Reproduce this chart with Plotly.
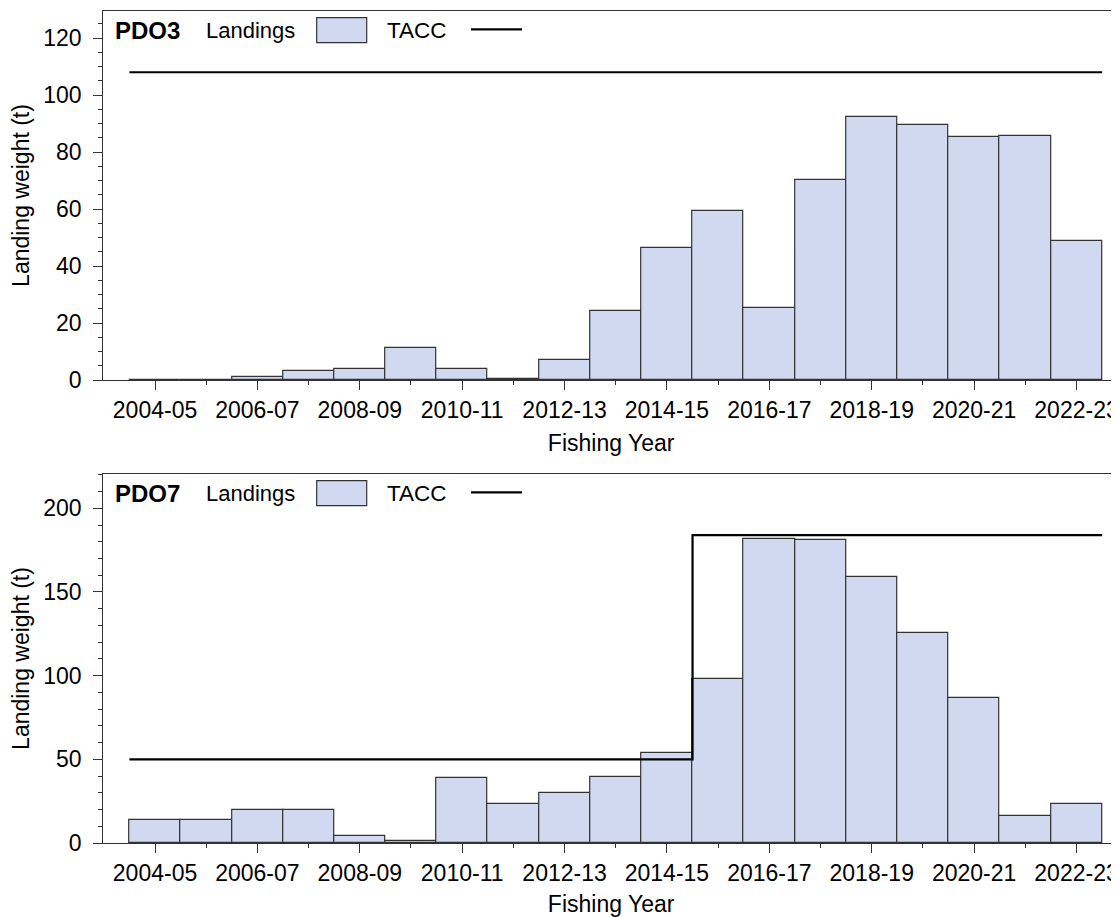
import plotly.graph_objects as go

# ---------------- data ----------------
years = ["2004-05", "2005-06", "2006-07", "2007-08", "2008-09", "2009-10", "2010-11",
         "2011-12", "2012-13", "2013-14", "2014-15", "2015-16", "2016-17", "2017-18",
         "2018-19", "2019-20", "2020-21", "2021-22", "2022-23"]

pdo3_landings = [0, 0, 1.2, 3.2, 3.9, 11.3, 3.9, 0.5, 7.0, 24.2, 46.2, 59.4, 25.4,
                 70.3, 92.3, 89.5, 85.3, 85.6, 48.9]
pdo3_tacc = [108] * 19

pdo7_landings = [14.0, 14.0, 20.0, 20.0, 4.2, 1.4, 38.7, 23.5, 30.1, 39.3, 54.0, 97.9,
                 181.9, 180.9, 159.1, 125.2, 86.5, 16.0, 23.3]
pdo7_tacc = [50] * 11 + [184] * 8

panel_names = ["PDO3", "PDO7"]
y_ranges = [[0, 129.5], [0, 220.5]]
y_dticks = [20, 50]
y_minor = [5, 10]

# ---------------- style ----------------
# page body has an 8px default margin; figure is sized/offset so that the
# visible picture lines up with a 1119x917 window
OFF = 8
W, H = 1119 - OFF, 917 - OFF
FONT = "Liberation Sans, Arial, sans-serif"
BAR_FILL = "#D1D9F1"
BAR_LINE = "#333333"
AXIS_COL = "#333333"


def fx(px):
    return (px - OFF) / W


def fy(py):
    return 1 - (py - OFF) / H


idx = list(range(len(years)))
major_vals = idx[::2]
major_text = years[::2]
minor_vals = idx[1::2]

fig = go.Figure()

panels = [
    (pdo3_landings, pdo3_tacc, "x", "y"),
    (pdo7_landings, pdo7_tacc, "x2", "y2"),
]

for land, tacc, xa, ya in panels:
    fig.add_trace(go.Bar(
        x=idx, y=land, width=1.0, xaxis=xa, yaxis=ya,
        marker=dict(color=BAR_FILL, line=dict(color=BAR_LINE, width=1.2)),
        showlegend=False, name="Landings",
    ))
    step_x = [i - 0.5 for i in idx] + [idx[-1] + 0.5]
    step_y = list(tacc) + [tacc[-1]]
    fig.add_trace(go.Scatter(
        x=step_x, y=step_y, mode="lines", line_shape="hv", xaxis=xa, yaxis=ya,
        line=dict(color="#000000", width=2.2), showlegend=False, name="TACC",
    ))

# panel pixel geometry (top, bottom of plot area) in window pixels
panel_px = [(11, 380), (474, 843)]
x_left_px = 103.3

axis_common = dict(
    showline=True, linecolor=AXIS_COL, linewidth=1.2,
    ticks="outside", ticklen=9, tickwidth=1.2, tickcolor=AXIS_COL,
    showgrid=False, zeroline=False,
    tickfont=dict(family=FONT, size=23, color="#000"),
    automargin=False,
)

layout = dict(
    width=W, height=H,
    margin=dict(l=0, r=0, t=0, b=0),
    plot_bgcolor="white", paper_bgcolor="white",
    bargap=0, showlegend=False,
    font=dict(family=FONT, size=23, color="#000"),
)

for k, (top, bot) in enumerate(panel_px):
    sfx = "" if k == 0 else str(k + 1)
    layout["xaxis" + sfx] = dict(
        axis_common,
        domain=[fx(x_left_px), 1.0],
        anchor="y" + sfx,
        range=[-1.01, 18.83],
        tickmode="array", tickvals=major_vals, ticktext=major_text,
        minor=dict(tickmode="array", tickvals=minor_vals, ticklen=4,
                   tickcolor=AXIS_COL, tickwidth=1.2, ticks="outside"),
        mirror=True,
        title=dict(text="Fishing Year", standoff=13,
                   font=dict(family=FONT, size=23, color="#000")),
    )
    layout["yaxis" + sfx] = dict(
        axis_common,
        domain=[fy(bot), fy(top)],
        anchor="x" + sfx,
        range=y_ranges[k],
        tickmode="linear", tick0=0, dtick=y_dticks[k],
        ticklabelstandoff=7,
        minor=dict(dtick=y_minor[k], tick0=0, ticklen=4,
                   tickcolor=AXIS_COL, tickwidth=1.2, ticks="outside"),
        mirror=False,
        title=dict(text="Landing weight (t)", standoff=12,
                   font=dict(family=FONT, size=23, color="#000")),
    )

fig.update_layout(**layout)

# ---------------- in-plot legends ----------------
shapes = []
annotations = []
for k, (top, bot) in enumerate(panel_px):
    off = top - 11
    cy = 30.5 + off
    annotations.append(dict(
        x=fx(113), y=fy(cy), xref="paper", yref="paper", xanchor="left", yanchor="middle",
        text="<b>%s</b>" % panel_names[k], showarrow=False,
        font=dict(family=FONT, size=24, color="#000"),
    ))
    annotations.append(dict(
        x=fx(204), y=fy(cy), xref="paper", yref="paper", xanchor="left", yanchor="middle",
        text="Landings", showarrow=False,
        font=dict(family=FONT, size=22, color="#000"),
    ))
    annotations.append(dict(
        x=fx(385), y=fy(cy), xref="paper", yref="paper", xanchor="left", yanchor="middle",
        text="TACC", showarrow=False,
        font=dict(family=FONT, size=22.5, color="#000"),
    ))
    shapes.append(dict(
        type="rect", xref="paper", yref="paper",
        x0=fx(316.7), x1=fx(366.7), y0=fy(17.7 + off), y1=fy(42.7 + off),
        fillcolor=BAR_FILL, line=dict(color=BAR_LINE, width=1.2),
    ))
    shapes.append(dict(
        type="line", xref="paper", yref="paper",
        x0=fx(471), x1=fx(522), y0=fy(29.3 + off), y1=fy(29.3 + off),
        line=dict(color="#000", width=2.2),
    ))

fig.update_layout(shapes=shapes, annotations=annotations)

fig.write_html("out.html")
